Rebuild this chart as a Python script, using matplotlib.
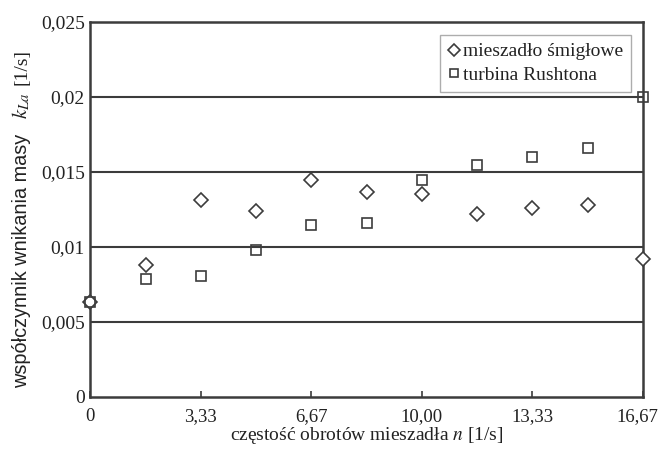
import matplotlib
matplotlib.use('Agg')
import matplotlib.pyplot as plt
import matplotlib.transforms as mtransforms

# data
n = [0, 1.67, 3.33, 5.0, 6.67, 8.33, 10.0, 11.67, 13.33, 15.0, 16.67]
kla_smiglowe = [0.00633, 0.00878, 0.01311, 0.01238, 0.01445, 0.01365,
                0.01351, 0.01218, 0.01258, 0.01278, 0.00918]
kla_rushton = [0.00633, 0.00785, 0.00805, 0.00978, 0.01145, 0.01158,
               0.01445, 0.01545, 0.01598, 0.01658, 0.01998]
xticks = [0, 10 / 3, 20 / 3, 10, 40 / 3, 50 / 3]
xticklabels = ['0', '3,33', '6,67', '10,00', '13,33', '16,67']
yticks = [0, 0.005, 0.01, 0.015, 0.02, 0.025]
yticklabels = ['0', '0,005', '0,01', '0,015', '0,02', '0,025']

plt.rcParams['font.family'] = ['Liberation Serif', 'DejaVu Serif']
plt.rcParams['mathtext.fontset'] = 'stix'
dark = '#3c3c3c'
txt = '#222222'

fig = plt.figure(figsize=(6.6, 4.54), dpi=100)
ax = fig.add_axes([0.137, 0.126, 0.837, 0.826])

for y in yticks[1:-1]:
    ax.axhline(y, color=dark, lw=1.5, zorder=1)

ax.plot(n, kla_smiglowe, linestyle='none', marker='D', markersize=7.5,
        markerfacecolor='white', markeredgecolor=dark, markeredgewidth=1.2,
        clip_on=False, zorder=3, label='mieszadło śmigłowe')
ax.plot(n, kla_rushton, linestyle='none', marker='s', markersize=7.5,
        markerfacecolor='none', markeredgecolor=dark, markeredgewidth=1.2,
        clip_on=False, zorder=3, label='turbina Rushtona')

ax.set_xlim(0, 50 / 3)
ax.set_ylim(0, 0.025)
ax.set_xticks(xticks)
ax.set_xticklabels(xticklabels)
ax.set_yticks(yticks)
ax.set_yticklabels(yticklabels)
ax.tick_params(axis='x', direction='in', length=4, width=1.2, color=dark,
               labelsize=13.5, pad=8, labelcolor=txt)
ax.tick_params(axis='y', length=0, labelsize=14, pad=4, labelcolor=txt)
# last x label sits at the figure edge, nudge it left a little
last = ax.get_xticklabels()[-1]
last.set_transform(last.get_transform() + mtransforms.ScaledTranslation(
    -4 / 72, 0, fig.dpi_scale_trans))
for sp in ax.spines.values():
    sp.set_color(dark)
    sp.set_linewidth(1.8)

ax.set_xlabel('częstość obrotów mieszadła $n$ [1/s]', fontsize=14,
              color=txt, labelpad=0)

# y label built from three pieces (sans text, italic symbol, unit)
fig.text(0.033, 0.425, 'współczynnik wnikania masy', rotation=90,
         ha='center', va='center', fontsize=14.3, color=txt,
         family=['Liberation Sans', 'DejaVu Sans'])
fig.text(0.033, 0.767, '$k_{La}$', rotation=90, ha='center', va='center',
         fontsize=15, color=txt)
fig.text(0.033, 0.852, '[1/s]', rotation=90, ha='center', va='center',
         fontsize=14, color=txt)

leg = ax.legend(loc='upper right', bbox_to_anchor=(0.978, 0.965),
                borderaxespad=0, fontsize=14, frameon=True, fancybox=False,
                handlelength=0.6, handletextpad=0.15, borderpad=0.4,
                labelspacing=0.3, markerscale=0.85)
leg.get_frame().set_edgecolor('#999999')
leg.get_frame().set_linewidth(1.0)
for t in leg.get_texts():
    t.set_color(txt)

fig.savefig('out.png', dpi=100)
